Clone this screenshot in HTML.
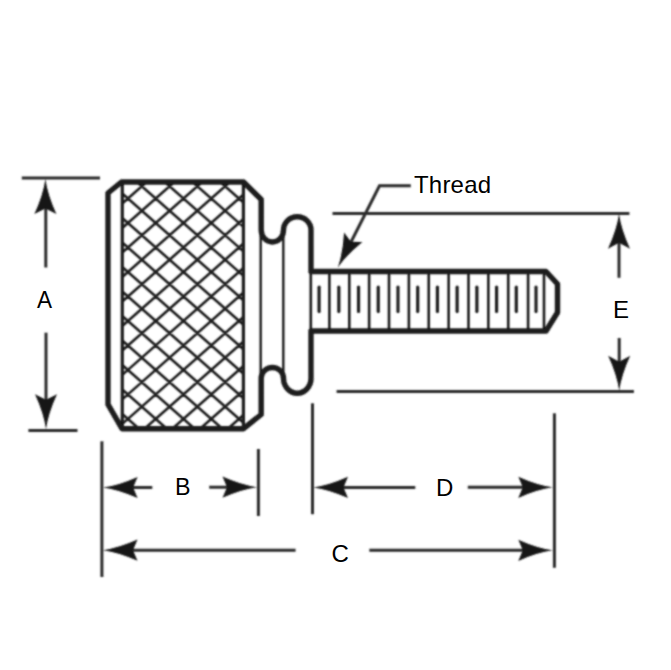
<!DOCTYPE html>
<html><head><meta charset="utf-8"><style>html,body{margin:0;padding:0;background:#fff;overflow:hidden}svg{display:block}</style></head>
<body><svg width="671" height="670" viewBox="0 0 671 670"><defs><clipPath id="kc"><rect x="122" y="181.5" width="121.5" height="247"/></clipPath><filter id="bl" x="0" y="0" width="671" height="670" filterUnits="userSpaceOnUse"><feConvolveMatrix order="5" kernelMatrix="0.00087 0.00695 0.01388 0.00695 0.00087 0.00695 0.05540 0.11068 0.05540 0.00695 0.01388 0.11068 0.22111 0.11068 0.01388 0.00695 0.05540 0.11068 0.05540 0.00695 0.00087 0.00695 0.01388 0.00695 0.00087" preserveAlpha="false"/></filter></defs>
<rect width="671" height="670" fill="#fff"/>
<g filter="url(#bl)"><path d="M117.50 679.13L248.50 794.62M117.50 -282.13L248.50 -397.62M117.50 654.64L248.50 770.13M117.50 -257.64L248.50 -373.13M117.50 630.15L248.50 745.64M117.50 -233.15L248.50 -348.64M117.50 605.66L248.50 721.15M117.50 -208.66L248.50 -324.15M117.50 581.17L248.50 696.66M117.50 -184.17L248.50 -299.66M117.50 556.68L248.50 672.17M117.50 -159.68L248.50 -275.17M117.50 532.19L248.50 647.68M117.50 -135.19L248.50 -250.68M117.50 507.70L248.50 623.19M117.50 -110.70L248.50 -226.19M117.50 483.21L248.50 598.70M117.50 -86.21L248.50 -201.70M117.50 458.72L248.50 574.21M117.50 -61.72L248.50 -177.21M117.50 434.23L248.50 549.72M117.50 -37.23L248.50 -152.72M117.50 409.74L248.50 525.23M117.50 -12.74L248.50 -128.23M117.50 385.25L248.50 500.74M117.50 11.75L248.50 -103.74M117.50 360.76L248.50 476.25M117.50 36.24L248.50 -79.25M117.50 336.27L248.50 451.76M117.50 60.73L248.50 -54.76M117.50 311.78L248.50 427.27M117.50 85.22L248.50 -30.27M117.50 287.29L248.50 402.78M117.50 109.71L248.50 -5.78M117.50 262.80L248.50 378.29M117.50 134.20L248.50 18.71M117.50 238.31L248.50 353.80M117.50 158.69L248.50 43.20M117.50 213.82L248.50 329.31M117.50 183.18L248.50 67.69M117.50 189.33L248.50 304.82M117.50 207.67L248.50 92.18M117.50 164.84L248.50 280.33M117.50 232.16L248.50 116.67M117.50 140.35L248.50 255.84M117.50 256.65L248.50 141.16M117.50 115.86L248.50 231.35M117.50 281.14L248.50 165.65M117.50 91.37L248.50 206.86M117.50 305.63L248.50 190.14M117.50 66.88L248.50 182.37M117.50 330.12L248.50 214.63M117.50 42.39L248.50 157.88M117.50 354.61L248.50 239.12M117.50 17.90L248.50 133.39M117.50 379.10L248.50 263.61M117.50 -6.59L248.50 108.90M117.50 403.59L248.50 288.10M117.50 -31.08L248.50 84.41M117.50 428.08L248.50 312.59M117.50 -55.57L248.50 59.92M117.50 452.57L248.50 337.08M117.50 -80.06L248.50 35.43M117.50 477.06L248.50 361.57M117.50 -104.55L248.50 10.94M117.50 501.55L248.50 386.06M117.50 -129.04L248.50 -13.55M117.50 526.04L248.50 410.55M117.50 -153.53L248.50 -38.04M117.50 550.53L248.50 435.04M117.50 -178.02L248.50 -62.53M117.50 575.02L248.50 459.53M117.50 -202.51L248.50 -87.02M117.50 599.51L248.50 484.02M117.50 -227.00L248.50 -111.51M117.50 624.00L248.50 508.51M117.50 -251.49L248.50 -136.00M117.50 648.49L248.50 533.00M117.50 -275.98L248.50 -160.49M117.50 672.98L248.50 557.49" stroke="#1a1a1a" stroke-width="2.6" fill="none" clip-path="url(#kc)"/><line x1="122.3" y1="181.5" x2="122.3" y2="428.5" stroke="#1a1a1a" stroke-width="3.2"/><line x1="243.4" y1="181.5" x2="243.4" y2="428.5" stroke="#1a1a1a" stroke-width="3.2"/><line x1="260.7" y1="232" x2="260.7" y2="376" stroke="#1a1a1a" stroke-width="2.4"/><line x1="283.3" y1="232" x2="283.3" y2="376" stroke="#1a1a1a" stroke-width="2.4"/><line x1="310.8" y1="271" x2="310.8" y2="332" stroke="#1a1a1a" stroke-width="2.6"/><line x1="329.40" y1="271.5" x2="329.40" y2="331" stroke="#1a1a1a" stroke-width="2.6"/><line x1="349.27" y1="271.5" x2="349.27" y2="331" stroke="#1a1a1a" stroke-width="2.6"/><line x1="369.14" y1="271.5" x2="369.14" y2="331" stroke="#1a1a1a" stroke-width="2.6"/><line x1="389.01" y1="271.5" x2="389.01" y2="331" stroke="#1a1a1a" stroke-width="2.6"/><line x1="408.88" y1="271.5" x2="408.88" y2="331" stroke="#1a1a1a" stroke-width="2.6"/><line x1="428.75" y1="271.5" x2="428.75" y2="331" stroke="#1a1a1a" stroke-width="2.6"/><line x1="448.62" y1="271.5" x2="448.62" y2="331" stroke="#1a1a1a" stroke-width="2.6"/><line x1="468.49" y1="271.5" x2="468.49" y2="331" stroke="#1a1a1a" stroke-width="2.6"/><line x1="488.36" y1="271.5" x2="488.36" y2="331" stroke="#1a1a1a" stroke-width="2.6"/><line x1="508.23" y1="271.5" x2="508.23" y2="331" stroke="#1a1a1a" stroke-width="2.6"/><line x1="528.10" y1="271.5" x2="528.10" y2="331" stroke="#1a1a1a" stroke-width="2.6"/><line x1="544" y1="271.5" x2="544" y2="331" stroke="#1a1a1a" stroke-width="2.6"/><line x1="319.10" y1="287.2" x2="319.10" y2="311.4" stroke="#1a1a1a" stroke-width="3.2" stroke-linecap="round"/><line x1="338.82" y1="287.2" x2="338.82" y2="311.4" stroke="#1a1a1a" stroke-width="3.2" stroke-linecap="round"/><line x1="358.54" y1="287.2" x2="358.54" y2="311.4" stroke="#1a1a1a" stroke-width="3.2" stroke-linecap="round"/><line x1="378.26" y1="287.2" x2="378.26" y2="311.4" stroke="#1a1a1a" stroke-width="3.2" stroke-linecap="round"/><line x1="397.98" y1="287.2" x2="397.98" y2="311.4" stroke="#1a1a1a" stroke-width="3.2" stroke-linecap="round"/><line x1="417.70" y1="287.2" x2="417.70" y2="311.4" stroke="#1a1a1a" stroke-width="3.2" stroke-linecap="round"/><line x1="437.42" y1="287.2" x2="437.42" y2="311.4" stroke="#1a1a1a" stroke-width="3.2" stroke-linecap="round"/><line x1="457.14" y1="287.2" x2="457.14" y2="311.4" stroke="#1a1a1a" stroke-width="3.2" stroke-linecap="round"/><line x1="476.86" y1="287.2" x2="476.86" y2="311.4" stroke="#1a1a1a" stroke-width="3.2" stroke-linecap="round"/><line x1="496.58" y1="287.2" x2="496.58" y2="311.4" stroke="#1a1a1a" stroke-width="3.2" stroke-linecap="round"/><line x1="516.30" y1="287.2" x2="516.30" y2="311.4" stroke="#1a1a1a" stroke-width="3.2" stroke-linecap="round"/><line x1="536.02" y1="287.2" x2="536.02" y2="311.4" stroke="#1a1a1a" stroke-width="3.2" stroke-linecap="round"/><path d="M121.5 182 L243.5 182 L261.2 199.5 L261.2 230.0 A11.15 12 0 0 0 283.5 230.0 A13.75 13.3 0 0 1 311.0 230.0 L311.0 271.5 L546 271.5 L557.5 284 L557.5 312.5 L546 331 L311.0 331 L311.0 378.3 A13.75 14.9 0 0 1 283.5 378.3 A11.15 10.8 0 0 0 261.2 378.3 L261.2 414.5 L243.5 428.7 L122 428.7 L108 404.3 L108 193 Z" fill="none" stroke="#1a1a1a" stroke-width="5.4" stroke-linejoin="round"/>
<line x1="21.8" y1="178" x2="100" y2="178" stroke="#2a2a2a" stroke-width="3"/><line x1="28.4" y1="430.4" x2="77.5" y2="430.4" stroke="#2a2a2a" stroke-width="3"/><line x1="45.8" y1="200" x2="45.8" y2="267.5" stroke="#2a2a2a" stroke-width="3"/><line x1="46" y1="332.7" x2="46" y2="405" stroke="#2a2a2a" stroke-width="3"/><path d="M45.40 179.00Q47.60 194.75 56.40 214.00L45.40 208.50L34.40 214.00Q43.20 194.75 45.40 179.00Z" fill="#181818"/><path d="M46.00 429.20Q43.80 413.45 35.00 394.20L46.00 399.70L57.00 394.20Q48.20 413.45 46.00 429.20Z" fill="#181818"/><line x1="332.5" y1="213.6" x2="629.4" y2="213.6" stroke="#2a2a2a" stroke-width="3"/><line x1="336.6" y1="391.5" x2="633.9" y2="391.5" stroke="#2a2a2a" stroke-width="3"/><line x1="619" y1="235" x2="619" y2="277.8" stroke="#2a2a2a" stroke-width="3"/><line x1="619.2" y1="338" x2="619.2" y2="370" stroke="#2a2a2a" stroke-width="3"/><path d="M619.00 213.80Q621.20 229.55 630.00 248.80L619.00 242.80L608.00 248.80Q616.80 229.55 619.00 213.80Z" fill="#181818"/><path d="M619.20 390.80Q617.00 375.05 608.20 355.80L619.20 361.80L630.20 355.80Q621.40 375.05 619.20 390.80Z" fill="#181818"/><line x1="101.9" y1="441.3" x2="101.9" y2="577" stroke="#2a2a2a" stroke-width="3"/><line x1="258.4" y1="449" x2="258.4" y2="516" stroke="#2a2a2a" stroke-width="3"/><line x1="125" y1="487.5" x2="152.3" y2="487.5" stroke="#2a2a2a" stroke-width="3"/><line x1="209.2" y1="487.2" x2="235" y2="487.2" stroke="#2a2a2a" stroke-width="3"/><path d="M103.10 487.50Q118.62 485.38 137.60 476.90L133.10 487.50L137.60 498.10Q118.62 489.62 103.10 487.50Z" fill="#181818"/><path d="M257.00 487.20Q241.47 489.32 222.50 497.80L227.00 487.20L222.50 476.60Q241.47 485.08 257.00 487.20Z" fill="#181818"/><line x1="312.5" y1="403.3" x2="312.5" y2="514.2" stroke="#2a2a2a" stroke-width="3"/><line x1="554.4" y1="413.3" x2="554.4" y2="567.8" stroke="#2a2a2a" stroke-width="3"/><line x1="335" y1="487.4" x2="415.3" y2="487.4" stroke="#2a2a2a" stroke-width="3"/><line x1="467.8" y1="487.2" x2="530" y2="487.2" stroke="#2a2a2a" stroke-width="3"/><path d="M313.50 487.40Q329.02 485.28 348.00 476.80L343.50 487.40L348.00 498.00Q329.02 489.52 313.50 487.40Z" fill="#181818"/><path d="M552.80 487.30Q537.27 489.42 518.30 497.90L522.80 487.30L518.30 476.70Q537.27 485.18 552.80 487.30Z" fill="#181818"/><line x1="125" y1="550.2" x2="295.6" y2="550.2" stroke="#2a2a2a" stroke-width="3"/><line x1="369.3" y1="550.3" x2="530" y2="550.3" stroke="#2a2a2a" stroke-width="3"/><path d="M103.00 550.20Q118.53 548.08 137.50 539.60L133.00 550.20L137.50 560.80Q118.53 552.32 103.00 550.20Z" fill="#181818"/><path d="M552.80 550.30Q537.27 552.42 518.30 560.90L522.80 550.30L518.30 539.70Q537.27 548.18 552.80 550.30Z" fill="#181818"/><polyline points="410.8,185.7 379.5,185.7 351,242" fill="none" stroke="#2a2a2a" stroke-width="3"/><path d="M337.80 267.50Q342.91 252.93 344.07 232.53L350.97 241.66L362.42 241.89Q346.58 254.80 337.80 267.50Z" fill="#181818"/></g>
<text x="0" y="0" transform="translate(37 307.5) scale(0.94 1)" font-family="Liberation Sans" font-size="24" fill="#000">A</text><text x="0" y="0" transform="translate(613 317.6) scale(1.0 1)" font-family="Liberation Sans" font-size="24" fill="#000">E</text><text x="0" y="0" transform="translate(175 494.5) scale(0.97 1)" font-family="Liberation Sans" font-size="24" fill="#000">B</text><text x="0" y="0" transform="translate(436 496) scale(1.0 1)" font-family="Liberation Sans" font-size="24" fill="#000">D</text><text x="0" y="0" transform="translate(331.5 561.5) scale(1.0 1)" font-family="Liberation Sans" font-size="24" fill="#000">C</text><text x="0" y="0" transform="translate(414 193) scale(1.0 1)" letter-spacing="0.2" font-family="Liberation Sans" font-size="24" fill="#000">Thread</text>
</svg></body></html>
